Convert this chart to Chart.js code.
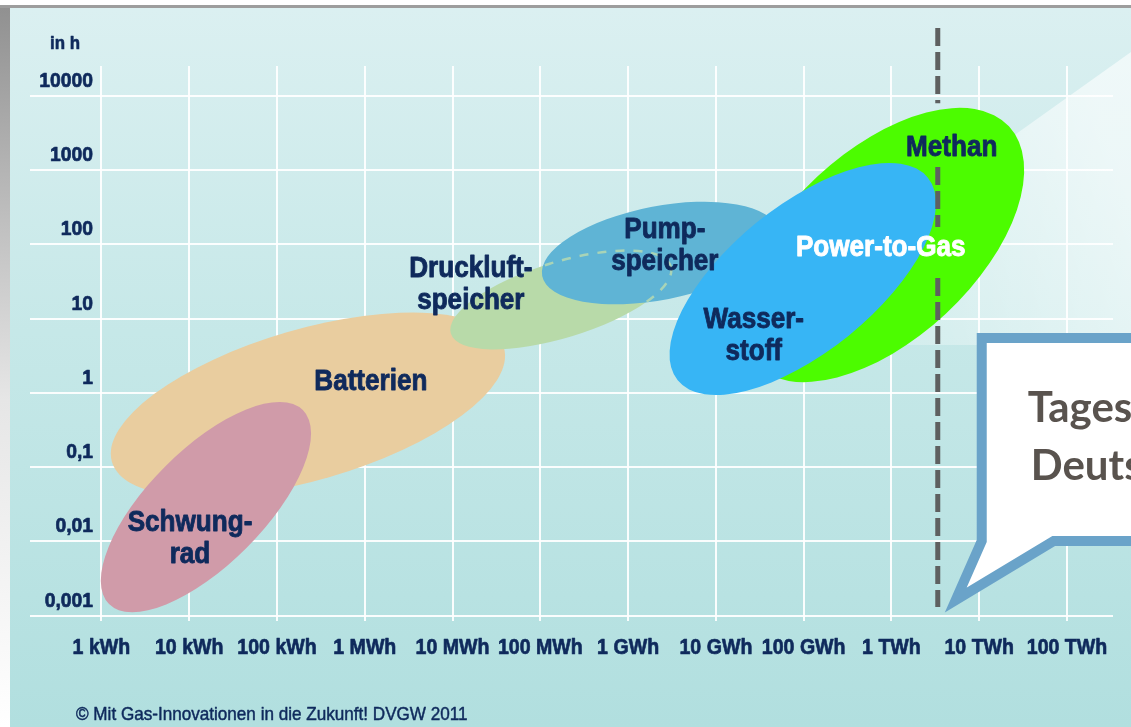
<!DOCTYPE html>
<html lang="de">
<head>
<meta charset="utf-8">
<title>Speichertechnologien</title>
<script src="https://cdn.jsdelivr.net/npm/chart.js@4.4.1/dist/chart.umd.min.js"></script>
<style>
  html, body { margin: 0; padding: 0; background: #fff; }
  #wrap { position: relative; width: 1131px; height: 727px; }
</style>
</head>
<body>
<div id="wrap"><canvas id="speicherChart" width="1131" height="727"></canvas></div>
<script>
// Axes: energy in kWh, discharge time in h
const xTickValues = [1, 1e1, 1e2, 1e3, 1e4, 1e5, 1e6, 1e7, 1e8, 1e9, 1e10, 1e11];
const xTickLabels = ['1 kWh', '10 kWh', '100 kWh', '1 MWh', '10 MWh', '100 MWh', '1 GWh', '10 GWh', '100 GWh', '1 TWh', '10 TWh', '100 TWh'];
const yTickValues = [0.001, 0.01, 0.1, 1, 10, 100, 1000, 10000];
const yTickLabels = ['0,001', '0,01', '0,1', '1', '10', '100', '1000', '10000'];

// Storage areas (draw order): centre and end of the long axis in (kWh, h), width relative to length
const techNames = ['Batterien', 'Schwungrad', 'Druckluftspeicher', 'Pumpspeicher', 'Methan', 'Wasserstoff'];
const centerEnergy = [225, 15.5, 1.71e5, 2.3e6, 7.75e8, 9.77e7];
const centerHours = [0.69, 0.029, 17.8, 76.3, 97.8, 34.1];
const tipEnergy = [3.85e4, 197, 3.06e6, 5.04e7, 2.18e10, 2.6e9];
const tipHours = [4.04, 0.586, 50.4, 155, 3873, 788];
const widthRatio = [0.37, 0.42, 0.33, 0.39, 0.54, 0.453];
const areaColors = ['#e9cd9f', '#d09ba9', '#b8daa9', '#5fb4d5', '#4cfc00', '#37b5f5'];

// Labels inside the areas
const labelLines = [['Schwung-', 'rad'], ['Batterien'], ['Druckluft-', 'speicher'], ['Pump-', 'speicher'], ['Wasser-', 'stoff'], ['Power-to-Gas'], ['Methan']];
const labelEnergy = [10.2, 1173, 16150, 2.62e6, 2.7e7, 7.55e8, 4.86e9];
const labelHours = [0.0118, 1.49, 30.6, 101, 6.3, 97.7, 2167];
const labelColors = ['#0f2a5c', '#0f2a5c', '#0f2a5c', '#0f2a5c', '#0f2a5c', '#ffffff', '#0f2a5c'];

// Marker for daily consumption (dashed line) and callout
const markerEnergy = 3.37e9;
const markerSegments = [[81470, 7943], [1096, 171], [35.2, 0.00131]];
const calloutTipEnergy = 5.4e9;
const calloutTipHours = 0.00163;
const calloutLines = ['Tages', 'Deuts'];

const yUnitLabel = 'in h';
const footerText = '\u00A9 Mit Gas-Innovationen in die Zukunft! DVGW 2011';

const NAVY = '#0f2a5c';
const SANS = "'Liberation Sans', Arial, sans-serif";

// text in a condensed look: a normal face squeezed horizontally, optionally thickened
function condensedText(ctx, text, x, y, align, squeeze, thicken) {
    ctx.save();
    ctx.translate(x, y);
    ctx.scale(squeeze, 1);
    ctx.textAlign = align;
    ctx.fillText(text, 0, 0);
    if (thicken) {
        ctx.strokeStyle = ctx.fillStyle;
        ctx.lineWidth = thicken;
        ctx.lineJoin = 'round';
        ctx.strokeText(text, 0, 0);
    }
    ctx.restore();
}

function ellipseGeom(chart, i) {
    const sx = chart.scales.x, sy = chart.scales.y;
    const cx = sx.getPixelForValue(centerEnergy[i]);
    const cy = sy.getPixelForValue(centerHours[i]);
    const tx = sx.getPixelForValue(tipEnergy[i]);
    const ty = sy.getPixelForValue(tipHours[i]);
    const rx = Math.hypot(tx - cx, ty - cy);
    return { cx, cy, rx, ry: rx * widthRatio[i], rot: Math.atan2(ty - cy, tx - cx) };
}

function ellipsePath(ctx, g) {
    ctx.beginPath();
    ctx.ellipse(g.cx, g.cy, g.rx, g.ry, g.rot, 0, Math.PI * 2);
}

const panelPlugin = {
    id: 'panel',
    beforeDraw(chart) {
        const { ctx, width, height } = chart;
        ctx.save();
        ctx.fillStyle = '#ffffff';
        ctx.fillRect(0, 0, width, height);
        const side = ctx.createLinearGradient(0, 0, 0, height);
        side.addColorStop(0, '#8f8f8f');
        side.addColorStop(0.55, '#e6e6e6');
        side.addColorStop(1, '#ffffff');
        ctx.fillStyle = side;
        ctx.fillRect(0, 5, 10, height - 5);
        ctx.fillStyle = '#9d9d9d';
        ctx.fillRect(0, 5, width, 3);
        const panel = ctx.createLinearGradient(0, 8, 0, height);
        panel.addColorStop(0, '#dbf0f1');
        panel.addColorStop(0.45, '#c6e8e8');
        panel.addColorStop(1, '#b1dfdf');
        ctx.fillStyle = panel;
        ctx.fillRect(10, 8, width - 10, height - 8);
        ctx.restore();
    }
};

const areasPlugin = {
    id: 'areas',
    beforeDatasetsDraw(chart) {
        const { ctx, width } = chart;
        const sx = chart.scales.x, sy = chart.scales.y;
        ctx.save();
        // light beam from the upper right
        const beam = ctx.createLinearGradient(720, 340, width, 200);
        beam.addColorStop(0, 'rgba(255,255,255,0)');
        beam.addColorStop(1, 'rgba(255,255,255,0.6)');
        ctx.fillStyle = beam;
        ctx.beginPath();
        ctx.moveTo(720, 345);
        ctx.lineTo(width, 52);
        ctx.lineTo(width, 345);
        ctx.closePath();
        ctx.fill();

        // tick labels, placed with the scales
        ctx.fillStyle = NAVY;
        ctx.font = 'bold 21px ' + SANS;
        ctx.textBaseline = 'alphabetic';
        sy.ticks.forEach((t, i) => {
            condensedText(ctx, yTickLabels[i], sy.left + 63, sy.getPixelForValue(t.value) - 9, 'right', 0.92, 0.7);
        });
        ctx.font = 'bold 22px ' + SANS;
        sx.ticks.forEach((t, i) => {
            condensedText(ctx, xTickLabels[i], sx.getPixelForValue(t.value), sx.top + 33, 'center', 0.89, 0.7);
        });

        for (let i = 0; i < techNames.length; i++) {
            ellipsePath(ctx, ellipseGeom(chart, i));
            ctx.fillStyle = areaColors[i];
            ctx.fill();
            if (techNames[i] === 'Pumpspeicher') {
                // hidden outline of the compressed air area under the pumped storage
                ctx.save();
                ellipsePath(ctx, ellipseGeom(chart, i));
                ctx.clip();
                ellipsePath(ctx, ellipseGeom(chart, techNames.indexOf('Druckluftspeicher')));
                ctx.setLineDash([9, 9]);
                ctx.lineWidth = 2.5;
                ctx.strokeStyle = 'rgba(200,225,170,0.7)';
                ctx.stroke();
                ctx.restore();
            }
        }
        ctx.restore();
    },
    afterDatasetsDraw(chart) {
        const { ctx } = chart;
        const sx = chart.scales.x, sy = chart.scales.y;
        ctx.save();

        // dashed marker line
        const mx = sx.getPixelForValue(markerEnergy);
        ctx.strokeStyle = '#5e6060';
        ctx.lineWidth = 5;
        ctx.setLineDash([18, 6]);
        markerSegments.forEach(seg => {
            ctx.beginPath();
            ctx.moveTo(mx, sy.getPixelForValue(seg[0]));
            ctx.lineTo(mx, sy.getPixelForValue(seg[1]));
            ctx.stroke();
        });
        ctx.setLineDash([]);

        // area labels
        ctx.font = 'bold 29px ' + SANS;
        ctx.textBaseline = 'alphabetic';
        labelLines.forEach((lines, i) => {
            const px = sx.getPixelForValue(labelEnergy[i]);
            const py = sy.getPixelForValue(labelHours[i]);
            ctx.fillStyle = labelColors[i];
            const top = py - (lines.length - 1) * 16;
            lines.forEach((t, k) => condensedText(ctx, t, px, top + k * 32 + 10.5, 'center', 0.9, 0.9));
        });

        // callout
        const tx = sx.getPixelForValue(calloutTipEnergy);
        const ty = sy.getPixelForValue(calloutTipHours);
        ctx.beginPath();
        ctx.moveTo(tx + 26, ty - 262);
        ctx.lineTo(tx + 220, ty - 262);
        ctx.lineTo(tx + 220, ty - 59);
        ctx.lineTo(tx + 98, ty - 59);
        ctx.lineTo(tx, ty);
        ctx.lineTo(tx + 26, ty - 59);
        ctx.closePath();
        ctx.fillStyle = '#ffffff';
        ctx.fill();
        ctx.lineJoin = 'miter';
        ctx.lineWidth = 10;
        ctx.strokeStyle = '#6aa3c9';
        ctx.stroke();
        ctx.fillStyle = '#59534e';
        ctx.font = "bold 42px Lato, 'Open Sans', sans-serif";
        ctx.textAlign = 'left';
        ctx.fillText(calloutLines[0], tx + 72, ty - 178);
        ctx.fillText(calloutLines[1], tx + 75, ty - 120);

        // unit and footer
        ctx.fillStyle = NAVY;
        ctx.font = 'bold 19px ' + SANS;
        condensedText(ctx, yUnitLabel, 50, 49, 'left', 0.89, 0.6);
        ctx.font = '19px ' + SANS;
        condensedText(ctx, footerText, 76, 720, 'left', 0.9, 0.5);
        ctx.restore();
    }
};

const ctx = document.getElementById('speicherChart').getContext('2d');
const speicherChart = new Chart(ctx, {
    type: 'scatter',
    data: { datasets: [] },
    options: {
        responsive: false,
        animation: false,
        devicePixelRatio: 1,
        layout: { padding: { left: 30, top: 66, right: 18, bottom: 106 } },
        plugins: {
            legend: { display: false },
            tooltip: { enabled: false }
        },
        scales: {
            x: {
                type: 'logarithmic',
                position: 'bottom',
                bounds: 'data',
                min: Math.pow(10, -0.814),
                max: Math.pow(10, 11.524),
                afterBuildTicks: (scale) => { scale.ticks = xTickValues.map(v => ({ value: v })); },
                grid: { color: 'rgba(255,255,255,0.92)', lineWidth: 2, drawTicks: false },
                border: { display: false },
                ticks: { display: false }
            },
            y: {
                type: 'logarithmic',
                position: 'left',
                bounds: 'data',
                min: Math.pow(10, -3.071),
                max: Math.pow(10, 4.4),
                afterBuildTicks: (scale) => { scale.ticks = yTickValues.map(v => ({ value: v })); },
                grid: { color: 'rgba(255,255,255,0.92)', lineWidth: 2, drawTicks: false },
                border: { display: false },
                ticks: { display: false }
            }
        }
    },
    plugins: [panelPlugin, areasPlugin]
});
</script>
</body>
</html>
